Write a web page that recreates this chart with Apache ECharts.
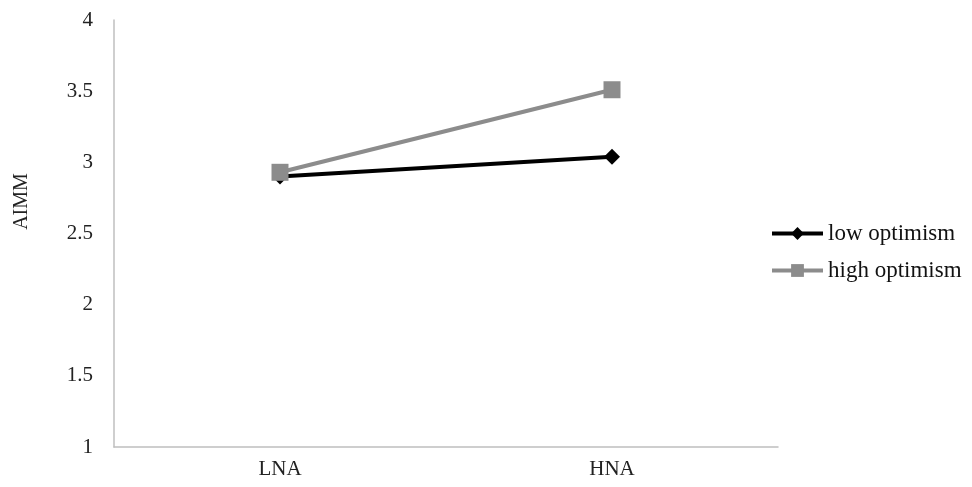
<!DOCTYPE html>
<html><head><meta charset="utf-8">
<script src="https://cdn.jsdelivr.net/npm/echarts@6/dist/echarts.min.js"></script>
<style>html,body{margin:0;padding:0;background:#fff}#c{width:972px;height:487px}</style>
</head><body><div id="c"></div>
<script>
const categories = ["LNA", "HNA"];
const lowOptimism = [2.90, 3.04];
const highOptimism = [2.93, 3.51];
const yTicks = [1, 1.5, 2, 2.5, 3, 3.5, 4];
const yAxisTitle = "AIMM";

const font = "'Liberation Serif', 'Times New Roman', serif";
const chart = echarts.init(document.getElementById('c'));
chart.setOption({
  animation: false,
  grid: { left: 114, right: 194, top: 20, bottom: 40, containLabel: false, outerBoundsMode: 'none' },
  xAxis: {
    type: 'category', data: categories, boundaryGap: true,
    axisLine: { lineStyle: { color: '#bfbfbf', width: 1.5 } },
    axisTick: { show: false },
    axisLabel: { color: '#222', fontFamily: font, fontSize: 21, margin: 12 }
  },
  yAxis: {
    type: 'value', min: yTicks[0], max: yTicks[yTicks.length - 1], interval: 0.5,
    name: yAxisTitle, nameLocation: 'middle', nameRotate: 90, nameGap: 82,
    nameTextStyle: { color: '#222', fontFamily: font, fontSize: 20, padding: [0, 0, 0, 64] },
    axisLine: { show: true, lineStyle: { color: '#bfbfbf', width: 1.5 } },
    axisTick: { show: false },
    splitLine: { show: false },
    axisLabel: { color: '#222', fontFamily: font, fontSize: 21, margin: 21 }
  },
  legend: {
    orient: 'vertical', left: 770, top: 222, itemGap: 14, padding: 0,
    itemWidth: 51, itemHeight: 16,
    lineStyle: { width: 4 },
    textStyle: { color: '#111', fontFamily: font, fontSize: 23 },
    data: ['low optimism', 'high optimism']
  },
  series: [
    {
      name: 'low optimism', type: 'line', data: lowOptimism,
      symbol: 'diamond', symbolSize: 16,
      lineStyle: { color: '#000', width: 4 },
      itemStyle: { color: '#000' }
    },
    {
      name: 'high optimism', type: 'line', data: highOptimism,
      symbol: 'rect', symbolSize: 17,
      lineStyle: { color: '#8c8c8c', width: 4 },
      itemStyle: { color: '#8c8c8c' }
    }
  ]
});
</script></body></html>
